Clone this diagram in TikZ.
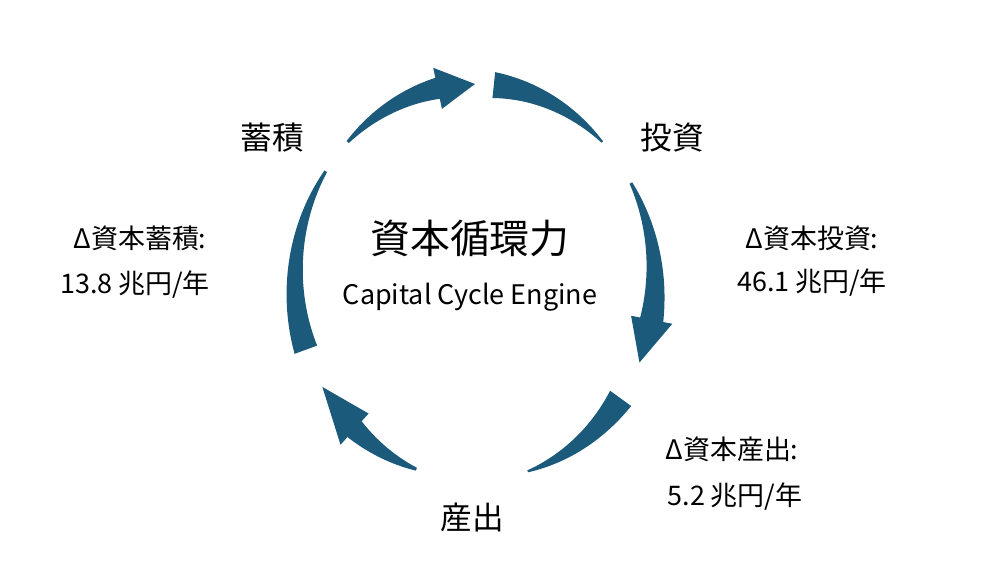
\documentclass[tikz,border=0pt]{standalone}
\usepackage{fontspec}
\setmainfont{Noto Sans CJK JP}
\begin{document}
\definecolor{arr}{HTML}{1B5A7A}
\newcommand\crs[4]{%
\fill[arr] plot[domain=#1:#2,samples=40,variable=\t] ({475+(180+(#3+(#4-#3)*(\t-#1)/(#2-#1))/2)*cos(\t)},{282-(198+(#3+(#4-#3)*(\t-#1)/(#2-#1))/2)*sin(\t)})
 -- plot[domain=#2:#1,samples=40,variable=\t] ({475+(180-(#3+(#4-#3)*(\t-#1)/(#2-#1))/2)*cos(\t)},{282-(198-(#3+(#4-#3)*(\t-#1)/(#2-#1))/2)*sin(\t)}) -- cycle;}
\newcommand\hd[3]{%
\fill[arr] ({475+(180+#3)*cos(#1)},{282-(198+#3)*sin(#1)}) -- ({475+180*cos(#2)},{282-198*sin(#2)}) -- ({475+(180-#3)*cos(#1)},{282-(198-#3)*sin(#1)}) -- cycle;}
\begin{tikzpicture}[x=0.03cm,y=-0.03cm,
 lab/.style={font=\fontsize{27}{30}\selectfont},
 val/.style={font=\fontsize{23}{26}\selectfont}]
\useasboundingbox (0,0) rectangle (1000,583);
\crs{200}{146}{24}{3}
\crs{135}{101}{3}{22}\hd{102}{90}{21}
\crs{84}{45}{26}{2}
\crs{30}{-12}{3}{24}\hd{-11}{-24}{21}
\crs{-36}{-73}{26}{2}
\crs{-109}{-133}{3}{22}\hd{-132}{-148}{21}
\node[lab] (acc) at (272,138) {蓄積};
\node[lab] (inv) at (672,138) {投資};
\node[lab] (out) at (472,517) {産出};
\node[font=\fontsize{34}{38}\selectfont] (title) at (470,238) {資本循環力};
\node[font=\fontsize{23}{26}\selectfont] (sub) at (470,297) {Capital Cycle Engine};
\node[val] (la1) at (140,238) {Δ資本蓄積:};
\node[val] (la2) at (135,285) {13.8 兆円/年};
\node[val] (ri1) at (812,238) {Δ資本投資:};
\node[val] (ri2) at (812,283) {46.1 兆円/年};
\node[val] (bo1) at (732,449) {Δ資本産出:};
\node[val] (bo2) at (735,497) {5.2 兆円/年};
\end{tikzpicture}
\end{document}
